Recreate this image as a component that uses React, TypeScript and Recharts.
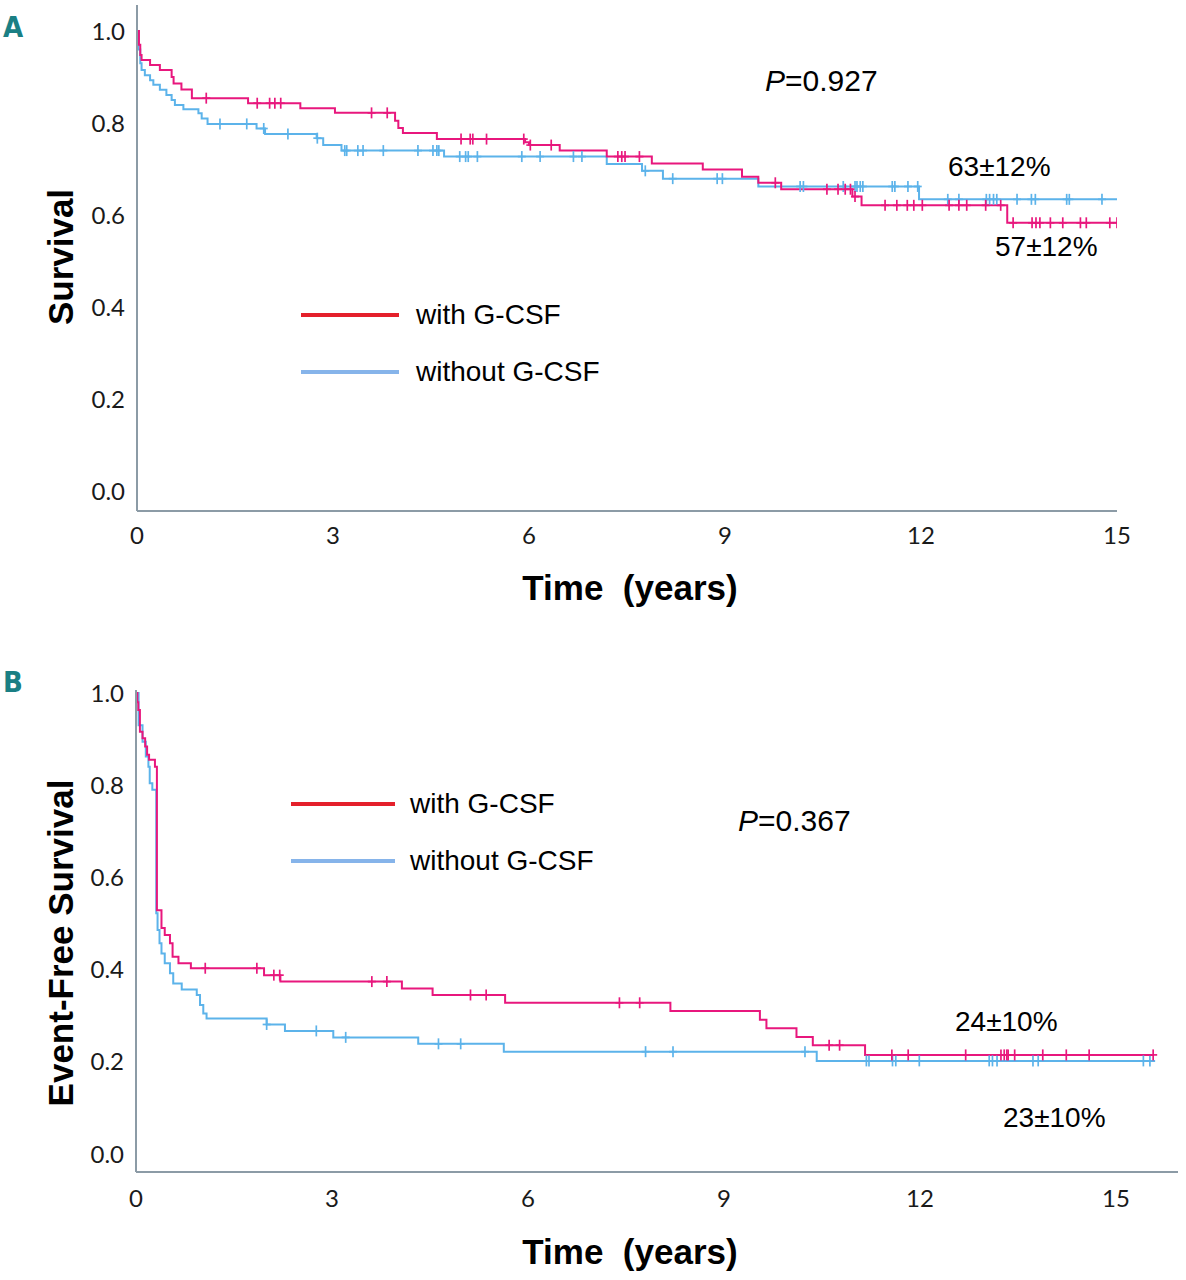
import React from "react";
import { ComposedChart, Line, Scatter, XAxis, YAxis, Label } from "recharts";

// shared axis ticks
const xTicks = [0, 3, 6, 9, 12, 15];
const yTicks = [0, 0.2, 0.4, 0.6, 0.8, 1.0];

const seriesNames = ["with G-CSF", "without G-CSF"];
const legendColors = ["#e4202b", "#86b4ea"];
const curveColors = ["#e8177d", "#5cb3ea"];

// Panel A: overall survival, [years, survival] at every step
const osWithSteps: [number, number][] = [
  [0, 1], [0.03, 0.97], [0.05, 0.948], [0.07, 0.937], [0.2, 0.926], [0.35, 0.915],
  [0.53, 0.9], [0.56, 0.886], [0.68, 0.873], [0.84, 0.854], [1.7, 0.843], [2.5, 0.832],
  [3.03, 0.822], [3.95, 0.805], [4.0, 0.789], [4.07, 0.778], [4.59, 0.765], [5.94, 0.758],
  [6.0, 0.752], [6.47, 0.74], [7.19, 0.727], [7.88, 0.712], [8.66, 0.699], [9.26, 0.683],
  [9.51, 0.67], [9.86, 0.656], [10.95, 0.64], [11.09, 0.621], [13.32, 0.583], [15.0, 0.583],
];
const osWithCensored = [
  1.06, 1.84, 2.03, 2.11, 2.2, 3.59, 3.83, 4.96, 5.1, 5.14, 5.35, 5.92, 6.02, 6.34, 7.36,
  7.42, 7.47, 7.69, 9.77, 10.56, 10.73, 10.84, 10.92, 10.99, 11.45, 11.63, 11.79, 11.89,
  12.02, 12.43, 12.58, 12.7, 12.99, 13.22, 13.41, 13.7, 13.76, 13.82, 13.98, 14.17, 14.44,
  14.53, 14.89, 15.0,
];
const osWithoutSteps: [number, number][] = [
  [0, 1], [0.02, 0.96], [0.05, 0.93], [0.07, 0.915], [0.12, 0.904], [0.2, 0.893],
  [0.25, 0.883], [0.35, 0.872], [0.45, 0.861], [0.53, 0.85], [0.58, 0.839], [0.71, 0.83],
  [0.94, 0.821], [0.99, 0.81], [1.08, 0.798], [1.83, 0.788], [1.96, 0.776], [2.75, 0.767],
  [2.85, 0.752], [3.13, 0.74], [4.7, 0.727], [7.19, 0.711], [7.73, 0.696], [8.05, 0.679],
  [9.51, 0.662], [11.97, 0.634], [15.0, 0.634],
];
const osWithoutCensored = [
  1.27, 1.68, 1.94, 2.31, 2.76, 3.18, 3.21, 3.38, 3.46, 3.77, 4.3, 4.53, 4.59, 4.62, 4.94,
  5.03, 5.07, 5.21, 5.89, 6.17, 6.68, 6.81, 7.78, 8.2, 8.88, 8.96, 10.15, 10.2, 10.81,
  10.99, 11.02, 11.07, 11.11, 11.56, 11.6, 11.8, 11.95, 12.41, 12.58, 13.0, 13.05, 13.11,
  13.16, 13.47, 13.69, 13.75, 14.23, 14.27, 14.77,
];

// Panel B: event-free survival
const efsWithSteps: [number, number][] = [
  [0, 1], [0.02, 0.98], [0.035, 0.963], [0.06, 0.916], [0.1, 0.902], [0.14, 0.884],
  [0.17, 0.866], [0.2, 0.855], [0.29, 0.84], [0.32, 0.529], [0.39, 0.49], [0.44, 0.475],
  [0.52, 0.457], [0.56, 0.428], [0.65, 0.414], [0.84, 0.403], [1.96, 0.388], [2.21, 0.374],
  [4.07, 0.359], [4.54, 0.345], [5.65, 0.328], [8.18, 0.31], [9.55, 0.291], [9.65, 0.273],
  [10.11, 0.254], [10.36, 0.236], [11.16, 0.215], [15.57, 0.215],
];
const efsWithCensored = [
  1.06, 1.85, 2.11, 2.2, 3.61, 3.84, 5.12, 5.36, 7.4, 7.71, 10.61, 10.77, 11.57, 11.82,
  12.7, 13.24, 13.29, 13.33, 13.35, 13.45, 13.88, 14.24, 14.59, 15.57,
];
const efsWithoutSteps: [number, number][] = [
  [0, 1], [0.04, 0.93], [0.1, 0.894], [0.15, 0.862], [0.19, 0.84], [0.21, 0.804],
  [0.25, 0.79], [0.31, 0.522], [0.33, 0.486], [0.36, 0.457], [0.39, 0.435], [0.44, 0.414],
  [0.52, 0.392], [0.57, 0.37], [0.7, 0.357], [0.93, 0.345], [0.98, 0.323], [1.03, 0.305],
  [1.08, 0.294], [2.0, 0.281], [2.28, 0.267], [3.02, 0.253], [4.32, 0.239], [5.63, 0.222],
  [10.42, 0.202], [15.6, 0.202],
];
const efsWithoutCensored = [
  2.0, 2.76, 3.21, 4.63, 4.97, 7.8, 8.22, 10.24, 11.18, 11.22, 11.58, 11.63, 11.99, 13.06,
  13.11, 13.18, 13.73, 13.81, 15.42, 15.52,
];

const toPoints = (steps: [number, number][]) => steps.map(([t, s]) => ({ t, s }));

// a censored case sits on the curve value at that time
const onCurve = (steps: [number, number][], times: number[]) =>
  times.map((t) => {
    let s = steps[0][1];
    for (const [st, sv] of steps) if (st <= t) s = sv;
    return { t, s };
  });

const tickFont = { fontFamily: "Lato, 'Open Sans', sans-serif", fontSize: 24, fill: "#1a1a1a" };
const textFont = "'Liberation Sans', Arial, sans-serif";
const axisStroke = { stroke: "#8c9ba6", strokeWidth: 2 };

const cross = (color: string) => (props: any) => {
  const { cx, cy } = props;
  if (cx == null || cy == null) return <g />;
  return (
    <g stroke={color} strokeWidth={1.7}>
      <line x1={cx} x2={cx} y1={cy - 5.5} y2={cy + 5.5} />
      <line x1={cx - 4} x2={cx + 4} y1={cy} y2={cy} />
    </g>
  );
};

interface PanelProps {
  withSteps: [number, number][];
  withoutSteps: [number, number][];
  withCens: number[];
  withoutCens: number[];
  xMax: number;
  yDomain: [number, number];
  margin: { top: number; right: number; left: number; bottom: number };
  yWidth: number;
  xHeight: number;
  yTitle: string;
  yTitleY: number;
  xTitleY: number;
  tickGap: number;
}

const Panel = (p: PanelProps) => (
  <ComposedChart width={1186} height={640} margin={p.margin}>
    <XAxis
      type="number"
      dataKey="t"
      domain={[0, p.xMax]}
      allowDataOverflow
      ticks={xTicks}
      tick={tickFont}
      tickLine={false}
      tickSize={0}
      tickMargin={p.tickGap}
      axisLine={axisStroke}
      height={p.xHeight}
    >
      <Label
        content={() => (
          <text
            x={630}
            y={p.xTitleY}
            textAnchor="middle"
            style={{ whiteSpace: "pre" }}
            fontFamily={textFont}
            fontWeight="bold"
            fontSize={35}
            fill="#000"
          >
            Time  (years)
          </text>
        )}
      />
    </XAxis>
    <YAxis
      type="number"
      dataKey="s"
      domain={p.yDomain}
      allowDataOverflow
      ticks={yTicks}
      tickFormatter={(v: number) => v.toFixed(1)}
      tick={tickFont}
      tickLine={false}
      tickSize={0}
      tickMargin={12}
      axisLine={axisStroke}
      width={p.yWidth}
    >
      <Label
        content={() => (
          <text
            x={60}
            y={p.yTitleY}
            transform={`rotate(-90 60 ${p.yTitleY})`}
            textAnchor="middle"
            dominantBaseline="central"
            fontFamily={textFont}
            fontWeight="bold"
            fontSize={35}
            fill="#000"
          >
            {p.yTitle}
          </text>
        )}
      />
    </YAxis>
    <Line
      data={toPoints(p.withoutSteps)}
      dataKey="s"
      type="stepAfter"
      stroke={curveColors[1]}
      strokeWidth={2}
      dot={false}
      isAnimationActive={false}
    />
    <Scatter
      data={onCurve(p.withoutSteps, p.withoutCens)}
      dataKey="s"
      shape={cross(curveColors[1])}
      isAnimationActive={false}
    />
    <Line
      data={toPoints(p.withSteps)}
      dataKey="s"
      type="stepAfter"
      stroke={curveColors[0]}
      strokeWidth={2}
      dot={false}
      isAnimationActive={false}
    />
    <Scatter
      data={onCurve(p.withSteps, p.withCens)}
      dataKey="s"
      shape={cross(curveColors[0])}
      isAnimationActive={false}
    />
  </ComposedChart>
);

const LegendBlock = ({ x, y, len, gap }: { x: number; y: number; len: number; gap: number }) => (
  <g>
    {seriesNames.map((name, i) => (
      <g key={name}>
        <line x1={x} x2={x + len} y1={y + i * 57} y2={y + i * 57} stroke={legendColors[i]} strokeWidth={4} />
        <text x={x + len + gap} y={y + i * 57 + 9} fontFamily={textFont} fontSize={28} fill="#000">
          {name}
        </text>
      </g>
    ))}
  </g>
);

export default function App() {
  return (
    <div style={{ position: "absolute", left: 0, top: 0, width: 1186, height: 1280, background: "#fff" }}>
      <div style={{ position: "absolute", left: 0, top: 0 }}>
        <Panel
          withSteps={osWithSteps}
          withoutSteps={osWithoutSteps}
          withCens={osWithCensored}
          withoutCens={osWithoutCensored}
          xMax={15}
          yDomain={[-0.0435, 1.0565]}
          margin={{ top: 5, right: 69, left: 0, bottom: 0 }}
          yWidth={137}
          xHeight={129}
          yTitle="Survival"
          yTitleY={257}
          xTitleY={600}
          tickGap={16}
        />
      </div>
      <div style={{ position: "absolute", left: 0, top: 640 }}>
        <Panel
          withSteps={efsWithSteps}
          withoutSteps={efsWithoutSteps}
          withCens={efsWithCensored}
          withoutCens={efsWithoutCensored}
          xMax={15.95}
          yDomain={[-0.039, 1.0065]}
          margin={{ top: 50, right: 8, left: 0, bottom: 0 }}
          yWidth={136}
          xHeight={108}
          yTitle="Event-Free Survival"
          yTitleY={303}
          xTitleY={624}
          tickGap={18}
        />
      </div>
      <svg
        width={1186}
        height={1280}
        style={{ position: "absolute", left: 0, top: 0, pointerEvents: "none" }}
      >
        <g fontFamily="'DejaVu Sans Condensed', 'Liberation Sans Narrow', sans-serif" fontWeight="bold" fontSize={29} fill="#1a7f84">
          <text x={3} y={37}>A</text>
          <text x={3} y={692}>B</text>
        </g>
        <LegendBlock x={301} y={315} len={98} gap={17} />
        <LegendBlock x={291} y={804} len={104} gap={15} />
        <g fontFamily={textFont} fill="#000">
          <text x={765} y={91} fontSize={30}>
            <tspan fontStyle="italic">P</tspan>=0.927
          </text>
          <text x={948} y={176} fontSize={28}>63±12%</text>
          <text x={995} y={256} fontSize={28}>57±12%</text>
          <text x={738} y={831} fontSize={30}>
            <tspan fontStyle="italic">P</tspan>=0.367
          </text>
          <text x={955} y={1031} fontSize={28}>24±10%</text>
          <text x={1003} y={1127} fontSize={28}>23±10%</text>
        </g>
      </svg>
    </div>
  );
}
